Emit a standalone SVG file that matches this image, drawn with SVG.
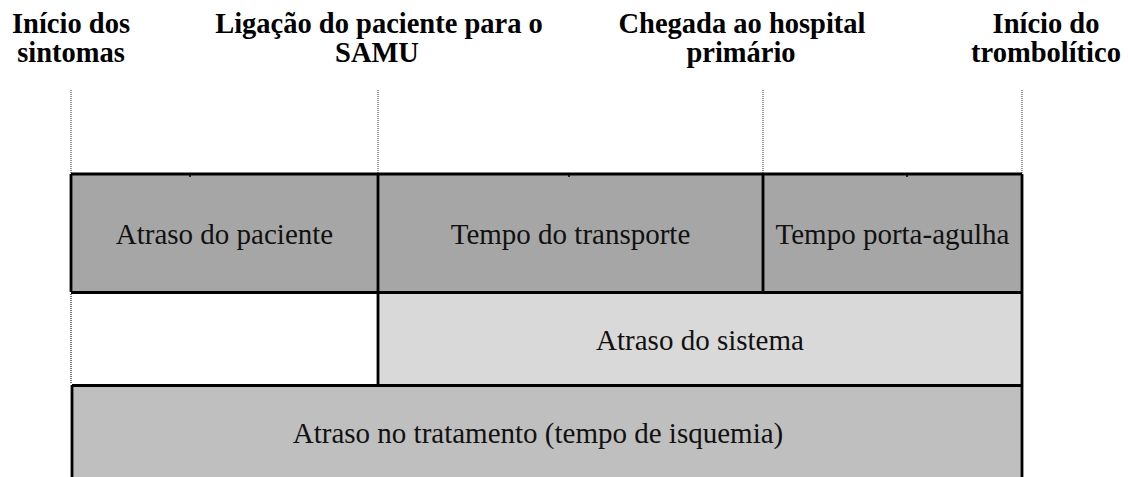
<svg xmlns="http://www.w3.org/2000/svg" width="1128" height="477" viewBox="0 0 1128 477">
<style>
.hd{font-family:"Liberation Serif","Times New Roman","DejaVu Serif",serif;font-weight:bold;font-size:28.5px;fill:#000;text-anchor:middle}
.lb{font-family:"Liberation Serif","Times New Roman","DejaVu Serif",serif;font-size:29px;fill:#111;text-anchor:middle}
.dot{stroke:#999;stroke-width:2;stroke-dasharray:1 1;fill:none}
.edge{stroke:#000;stroke-width:2.8;fill:none}
</style>
<rect width="1128" height="477" fill="#fff"/>
<g id="markers-text">
<text class="hd" x="71" y="33">Início dos</text>
<text class="hd" x="71" y="62">sintomas</text>
<text class="hd" x="379" y="33">Ligação do paciente para o</text>
<text class="hd" x="377" y="62">SAMU</text>
<text class="hd" x="742" y="33">Chegada ao hospital</text>
<text class="hd" x="741" y="62">primário</text>
<text class="hd" x="1046" y="33">Início do</text>
<text class="hd" x="1046" y="62">trombolítico</text>
</g>
<g id="connectors">
<line class="dot" x1="71" y1="90" x2="71" y2="174"/>
<line class="dot" x1="378" y1="90" x2="378" y2="174"/>
<line class="dot" x1="763" y1="90" x2="763" y2="174"/>
<line class="dot" x1="1022" y1="90" x2="1022" y2="174"/>
</g>
<g id="patient-delay">
<rect x="71" y="174" width="307" height="118" fill="#a6a6a6"/>
<text class="lb" x="224.5" y="244">Atraso do paciente</text>
</g>
<g id="transport-time">
<rect x="378" y="174" width="385" height="118" fill="#a6a6a6"/>
<text class="lb" x="570.5" y="244">Tempo do transporte</text>
</g>
<g id="door-needle">
<rect x="763" y="174" width="259" height="118" fill="#a6a6a6"/>
<text class="lb" x="892.5" y="244">Tempo porta-agulha</text>
</g>
<g id="blank-cell">
<rect x="71" y="292" width="307" height="93" fill="#fff"/>
<line x1="71" y1="294" x2="71" y2="384" stroke="#777" stroke-width="2" stroke-dasharray="1 1"/>
</g>
<g id="system-delay">
<rect x="378" y="292" width="644" height="93" fill="#d9d9d9"/>
<text class="lb" x="700" y="350">Atraso do sistema</text>
</g>
<g id="treatment-delay">
<rect x="72" y="385" width="950" height="95" fill="#bfbfbf"/>
<text class="lb" x="538" y="443">Atraso no tratamento (tempo de isquemia)</text>
</g>
<g id="borders">
<path class="edge" d="M71 174 H1022 M71 174 V292 M71 292.5 H1022 M378 174 V385 M763 174 V292 M72 385.5 H1022 M72 385 V477 M1022 174 V477"/>
<path stroke="#000" stroke-width="1.5" d="M190 174 V177 M569 174 V177 M907 174 V177"/>
</g>
</svg>
